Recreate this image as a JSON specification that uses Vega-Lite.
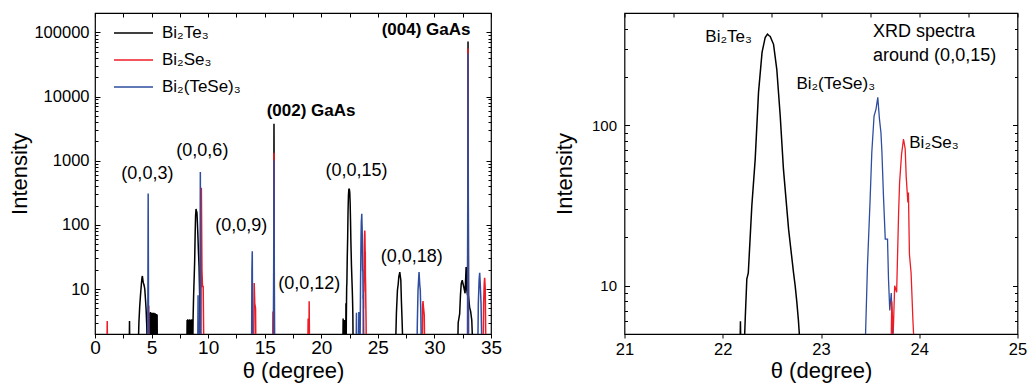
{
  "$schema": "https://vega.github.io/schema/vega-lite/v6.json",
  "padding": {"left": 8, "top": 11, "right": 1, "bottom": 0},
  "spacing": 49.5,
  "datasets": {
    "spec": [
      {"s":"Bi₂Te₃","t":0,"v":1},{"s":"Bi₂Te₃","t":3.02,"v":1},{"s":"Bi₂Te₃","t":3.05,"v":3.2},{"s":"Bi₂Te₃","t":3.08,"v":1},
      {"s":"Bi₂Te₃","t":3.81,"v":1},{"s":"Bi₂Te₃","t":3.88,"v":3},{"s":"Bi₂Te₃","t":3.95,"v":5.3},{"s":"Bi₂Te₃","t":4.02,"v":8},{"s":"Bi₂Te₃","t":4.1,"v":12},{"s":"Bi₂Te₃","t":4.15,"v":15},{"s":"Bi₂Te₃","t":4.19,"v":16},{"s":"Bi₂Te₃","t":4.23,"v":14},{"s":"Bi₂Te₃","t":4.27,"v":12.5},{"s":"Bi₂Te₃","t":4.31,"v":12},{"s":"Bi₂Te₃","t":4.36,"v":11},{"s":"Bi₂Te₃","t":4.4,"v":10},{"s":"Bi₂Te₃","t":4.46,"v":7},{"s":"Bi₂Te₃","t":4.52,"v":4.7},{"s":"Bi₂Te₃","t":4.58,"v":2.5},{"s":"Bi₂Te₃","t":4.62,"v":1},
      {"s":"Bi₂Te₃","t":4.82,"v":1},{"s":"Bi₂Te₃","t":4.84,"v":4.3},{"s":"Bi₂Te₃","t":4.87,"v":1.5},{"s":"Bi₂Te₃","t":4.9,"v":4.4},{"s":"Bi₂Te₃","t":4.93,"v":1.5},{"s":"Bi₂Te₃","t":4.96,"v":4.3},{"s":"Bi₂Te₃","t":4.99,"v":1.5},{"s":"Bi₂Te₃","t":5.02,"v":4.2},{"s":"Bi₂Te₃","t":5.05,"v":1.5},{"s":"Bi₂Te₃","t":5.08,"v":4.3},{"s":"Bi₂Te₃","t":5.11,"v":1.5},{"s":"Bi₂Te₃","t":5.14,"v":4.2},{"s":"Bi₂Te₃","t":5.17,"v":1.5},{"s":"Bi₂Te₃","t":5.2,"v":4.3},{"s":"Bi₂Te₃","t":5.23,"v":1.5},{"s":"Bi₂Te₃","t":5.26,"v":4.2},{"s":"Bi₂Te₃","t":5.29,"v":1.5},{"s":"Bi₂Te₃","t":5.32,"v":4.2},{"s":"Bi₂Te₃","t":5.35,"v":1.5},{"s":"Bi₂Te₃","t":5.38,"v":4.1},{"s":"Bi₂Te₃","t":5.41,"v":1.5},{"s":"Bi₂Te₃","t":5.44,"v":4.1},{"s":"Bi₂Te₃","t":5.47,"v":1.5},{"s":"Bi₂Te₃","t":5.49,"v":4.0},{"s":"Bi₂Te₃","t":5.51,"v":1},
      {"s":"Bi₂Te₃","t":8.12,"v":1},{"s":"Bi₂Te₃","t":8.14,"v":3.3},{"s":"Bi₂Te₃","t":8.17,"v":1.5},{"s":"Bi₂Te₃","t":8.2,"v":3.4},{"s":"Bi₂Te₃","t":8.23,"v":1.5},{"s":"Bi₂Te₃","t":8.26,"v":3.3},{"s":"Bi₂Te₃","t":8.29,"v":1.5},{"s":"Bi₂Te₃","t":8.32,"v":3.3},{"s":"Bi₂Te₃","t":8.35,"v":1.5},{"s":"Bi₂Te₃","t":8.38,"v":3.4},{"s":"Bi₂Te₃","t":8.41,"v":1.5},{"s":"Bi₂Te₃","t":8.44,"v":3.3},{"s":"Bi₂Te₃","t":8.47,"v":1.5},{"s":"Bi₂Te₃","t":8.5,"v":3.3},{"s":"Bi₂Te₃","t":8.53,"v":1.5},{"s":"Bi₂Te₃","t":8.56,"v":3.4},{"s":"Bi₂Te₃","t":8.59,"v":1.5},{"s":"Bi₂Te₃","t":8.62,"v":3.3},{"s":"Bi₂Te₃","t":8.65,"v":1.5},{"s":"Bi₂Te₃","t":8.67,"v":3.5},
      {"s":"Bi₂Te₃","t":8.72,"v":8.5},{"s":"Bi₂Te₃","t":8.77,"v":16},{"s":"Bi₂Te₃","t":8.81,"v":28},{"s":"Bi₂Te₃","t":8.85,"v":70},{"s":"Bi₂Te₃","t":8.89,"v":140},{"s":"Bi₂Te₃","t":8.93,"v":177},{"s":"Bi₂Te₃","t":8.97,"v":165},{"s":"Bi₂Te₃","t":9.01,"v":156},{"s":"Bi₂Te₃","t":9.05,"v":110},{"s":"Bi₂Te₃","t":9.09,"v":72},{"s":"Bi₂Te₃","t":9.14,"v":40},{"s":"Bi₂Te₃","t":9.2,"v":22},{"s":"Bi₂Te₃","t":9.25,"v":8},{"s":"Bi₂Te₃","t":9.3,"v":1},
      {"s":"Bi₂Te₃","t":15.78,"v":1},{"s":"Bi₂Te₃","t":15.82,"v":3750},{"s":"Bi₂Te₃","t":15.86,"v":1},
      {"s":"Bi₂Te₃","t":21.9,"v":1},{"s":"Bi₂Te₃","t":21.93,"v":3.5},{"s":"Bi₂Te₃","t":21.96,"v":1},{"s":"Bi₂Te₃","t":22.02,"v":1},{"s":"Bi₂Te₃","t":22.05,"v":3.3},{"s":"Bi₂Te₃","t":22.08,"v":1},{"s":"Bi₂Te₃","t":22.16,"v":1},{"s":"Bi₂Te₃","t":22.18,"v":6},{"s":"Bi₂Te₃","t":22.2,"v":1},{"s":"Bi₂Te₃","t":22.21,"v":3},{"s":"Bi₂Te₃","t":22.23,"v":6.5},{"s":"Bi₂Te₃","t":22.245,"v":11},{"s":"Bi₂Te₃","t":22.26,"v":12},{"s":"Bi₂Te₃","t":22.296,"v":31.5},{"s":"Bi₂Te₃","t":22.33,"v":61},{"s":"Bi₂Te₃","t":22.364,"v":160},{"s":"Bi₂Te₃","t":22.4,"v":284},{"s":"Bi₂Te₃","t":22.432,"v":352},{"s":"Bi₂Te₃","t":22.455,"v":369},{"s":"Bi₂Te₃","t":22.47,"v":362},{"s":"Bi₂Te₃","t":22.483,"v":357},{"s":"Bi₂Te₃","t":22.517,"v":319},{"s":"Bi₂Te₃","t":22.55,"v":223},{"s":"Bi₂Te₃","t":22.585,"v":114},{"s":"Bi₂Te₃","t":22.618,"v":53},{"s":"Bi₂Te₃","t":22.67,"v":22.5},{"s":"Bi₂Te₃","t":22.72,"v":12.1},{"s":"Bi₂Te₃","t":22.737,"v":10},{"s":"Bi₂Te₃","t":22.754,"v":7.9},{"s":"Bi₂Te₃","t":22.77,"v":6.1},{"s":"Bi₂Te₃","t":22.79,"v":4},{"s":"Bi₂Te₃","t":22.82,"v":1},
      {"s":"Bi₂Te₃","t":26.55,"v":1},{"s":"Bi₂Te₃","t":26.64,"v":4.2},{"s":"Bi₂Te₃","t":26.73,"v":9.6},{"s":"Bi₂Te₃","t":26.8,"v":12},{"s":"Bi₂Te₃","t":26.85,"v":15.5},{"s":"Bi₂Te₃","t":26.94,"v":18.4},{"s":"Bi₂Te₃","t":26.98,"v":16},{"s":"Bi₂Te₃","t":27.03,"v":13.8},{"s":"Bi₂Te₃","t":27.08,"v":6.6},{"s":"Bi₂Te₃","t":27.14,"v":3.3},{"s":"Bi₂Te₃","t":27.23,"v":1},
      {"s":"Bi₂Te₃","t":32.05,"v":1},{"s":"Bi₂Te₃","t":32.1,"v":3},{"s":"Bi₂Te₃","t":32.23,"v":4.1},{"s":"Bi₂Te₃","t":32.3,"v":8},{"s":"Bi₂Te₃","t":32.37,"v":12.2},{"s":"Bi₂Te₃","t":32.46,"v":13.8},{"s":"Bi₂Te₃","t":32.53,"v":12},{"s":"Bi₂Te₃","t":32.6,"v":10.7},{"s":"Bi₂Te₃","t":32.71,"v":8.6},{"s":"Bi₂Te₃","t":32.8,"v":22},{"s":"Bi₂Te₃","t":32.85,"v":10},{"s":"Bi₂Te₃","t":32.93,"v":8},{"s":"Bi₂Te₃","t":32.97,"v":72000},{"s":"Bi₂Te₃","t":33.01,"v":8},{"s":"Bi₂Te₃","t":33.11,"v":5.2},{"s":"Bi₂Te₃","t":33.2,"v":4.5},{"s":"Bi₂Te₃","t":33.3,"v":3.3},{"s":"Bi₂Te₃","t":33.41,"v":1},{"s":"Bi₂Te₃","t":35,"v":1},

      {"s":"Bi₂Se₃","t":0,"v":1},{"s":"Bi₂Se₃","t":1.05,"v":1},{"s":"Bi₂Se₃","t":1.08,"v":3.2},{"s":"Bi₂Se₃","t":1.11,"v":1},{"s":"Bi₂Se₃","t":4.72,"v":1},{"s":"Bi₂Se₃","t":4.75,"v":5.5},{"s":"Bi₂Se₃","t":4.78,"v":1},
      {"s":"Bi₂Se₃","t":9.35,"v":1},{"s":"Bi₂Se₃","t":9.4,"v":380},{"s":"Bi₂Se₃","t":9.45,"v":20},{"s":"Bi₂Se₃","t":9.5,"v":11},{"s":"Bi₂Se₃","t":9.56,"v":11},{"s":"Bi₂Se₃","t":9.62,"v":1},
      {"s":"Bi₂Se₃","t":14.02,"v":1},{"s":"Bi₂Se₃","t":14.07,"v":12.5},{"s":"Bi₂Se₃","t":14.12,"v":6},{"s":"Bi₂Se₃","t":14.19,"v":5},{"s":"Bi₂Se₃","t":14.22,"v":1},
      {"s":"Bi₂Se₃","t":15.7,"v":1},{"s":"Bi₂Se₃","t":15.73,"v":4.5},{"s":"Bi₂Se₃","t":15.76,"v":1},{"s":"Bi₂Se₃","t":15.79,"v":1},{"s":"Bi₂Se₃","t":15.82,"v":1330},{"s":"Bi₂Se₃","t":15.85,"v":1},
      {"s":"Bi₂Se₃","t":18.8,"v":1},{"s":"Bi₂Se₃","t":18.84,"v":3.5},{"s":"Bi₂Se₃","t":18.86,"v":1},{"s":"Bi₂Se₃","t":18.9,"v":1},{"s":"Bi₂Se₃","t":18.93,"v":6.5},{"s":"Bi₂Se₃","t":18.96,"v":1},
      {"s":"Bi₂Se₃","t":23.7,"v":1},{"s":"Bi₂Se₃","t":23.72,"v":8},{"s":"Bi₂Se₃","t":23.735,"v":5},{"s":"Bi₂Se₃","t":23.75,"v":10},{"s":"Bi₂Se₃","t":23.77,"v":9.1},{"s":"Bi₂Se₃","t":23.79,"v":28.6},{"s":"Bi₂Se₃","t":23.8,"v":44},{"s":"Bi₂Se₃","t":23.82,"v":66},{"s":"Bi₂Se₃","t":23.84,"v":82},{"s":"Bi₂Se₃","t":23.857,"v":71},{"s":"Bi₂Se₃","t":23.867,"v":48},{"s":"Bi₂Se₃","t":23.884,"v":33},{"s":"Bi₂Se₃","t":23.89,"v":38},{"s":"Bi₂Se₃","t":23.9,"v":15.7},{"s":"Bi₂Se₃","t":23.917,"v":12},{"s":"Bi₂Se₃","t":23.935,"v":6.2},{"s":"Bi₂Se₃","t":23.96,"v":3},{"s":"Bi₂Se₃","t":23.98,"v":1},
      {"s":"Bi₂Se₃","t":28.92,"v":1},{"s":"Bi₂Se₃","t":28.96,"v":5.5},{"s":"Bi₂Se₃","t":28.99,"v":6.5},{"s":"Bi₂Se₃","t":29.04,"v":5},{"s":"Bi₂Se₃","t":29.1,"v":4},{"s":"Bi₂Se₃","t":29.14,"v":1},
      {"s":"Bi₂Se₃","t":32.93,"v":1},{"s":"Bi₂Se₃","t":32.97,"v":56000},{"s":"Bi₂Se₃","t":33.01,"v":1},
      {"s":"Bi₂Se₃","t":34.3,"v":1},{"s":"Bi₂Se₃","t":34.35,"v":6},{"s":"Bi₂Se₃","t":34.4,"v":12},{"s":"Bi₂Se₃","t":34.44,"v":15},{"s":"Bi₂Se₃","t":34.49,"v":10},{"s":"Bi₂Se₃","t":34.55,"v":1},{"s":"Bi₂Se₃","t":35,"v":1},

      {"s":"Bi₂(TeSe)₃","t":0,"v":1},{"s":"Bi₂(TeSe)₃","t":4.66,"v":1},{"s":"Bi₂(TeSe)₃","t":4.7,"v":310},{"s":"Bi₂(TeSe)₃","t":4.74,"v":1},
      {"s":"Bi₂(TeSe)₃","t":9.08,"v":1},{"s":"Bi₂(TeSe)₃","t":9.11,"v":8},{"s":"Bi₂(TeSe)₃","t":9.14,"v":1},{"s":"Bi₂(TeSe)₃","t":9.27,"v":1},{"s":"Bi₂(TeSe)₃","t":9.31,"v":670},{"s":"Bi₂(TeSe)₃","t":9.35,"v":1},
      {"s":"Bi₂(TeSe)₃","t":13.84,"v":1},{"s":"Bi₂(TeSe)₃","t":13.87,"v":20},{"s":"Bi₂(TeSe)₃","t":13.9,"v":39},{"s":"Bi₂(TeSe)₃","t":13.94,"v":1},
      {"s":"Bi₂(TeSe)₃","t":15.78,"v":1},{"s":"Bi₂(TeSe)₃","t":15.82,"v":1015},{"s":"Bi₂(TeSe)₃","t":15.86,"v":1},
      {"s":"Bi₂(TeSe)₃","t":23.08,"v":1},{"s":"Bi₂(TeSe)₃","t":23.11,"v":4.3},{"s":"Bi₂(TeSe)₃","t":23.14,"v":1},{"s":"Bi₂(TeSe)₃","t":23.29,"v":1},{"s":"Bi₂(TeSe)₃","t":23.32,"v":4.4},{"s":"Bi₂(TeSe)₃","t":23.35,"v":1},
      {"s":"Bi₂(TeSe)₃","t":23.42,"v":1},{"s":"Bi₂(TeSe)₃","t":23.45,"v":4.2},{"s":"Bi₂(TeSe)₃","t":23.473,"v":13.3},{"s":"Bi₂(TeSe)₃","t":23.5,"v":34.6},{"s":"Bi₂(TeSe)₃","t":23.517,"v":67.6},{"s":"Bi₂(TeSe)₃","t":23.54,"v":114},{"s":"Bi₂(TeSe)₃","t":23.56,"v":126},{"s":"Bi₂(TeSe)₃","t":23.578,"v":149},{"s":"Bi₂(TeSe)₃","t":23.595,"v":109},{"s":"Bi₂(TeSe)₃","t":23.61,"v":90},{"s":"Bi₂(TeSe)₃","t":23.62,"v":68},{"s":"Bi₂(TeSe)₃","t":23.636,"v":36},{"s":"Bi₂(TeSe)₃","t":23.654,"v":19.5},{"s":"Bi₂(TeSe)₃","t":23.677,"v":19.5},{"s":"Bi₂(TeSe)₃","t":23.687,"v":11},{"s":"Bi₂(TeSe)₃","t":23.7,"v":7},{"s":"Bi₂(TeSe)₃","t":23.715,"v":9},{"s":"Bi₂(TeSe)₃","t":23.735,"v":4},{"s":"Bi₂(TeSe)₃","t":23.76,"v":1},
      {"s":"Bi₂(TeSe)₃","t":28.45,"v":1},{"s":"Bi₂(TeSe)₃","t":28.49,"v":3},{"s":"Bi₂(TeSe)₃","t":28.55,"v":9.6},{"s":"Bi₂(TeSe)₃","t":28.64,"v":18.4},{"s":"Bi₂(TeSe)₃","t":28.7,"v":12},{"s":"Bi₂(TeSe)₃","t":28.75,"v":9.6},{"s":"Bi₂(TeSe)₃","t":28.8,"v":4.2},{"s":"Bi₂(TeSe)₃","t":28.85,"v":1},
      {"s":"Bi₂(TeSe)₃","t":32.93,"v":1},{"s":"Bi₂(TeSe)₃","t":32.97,"v":47000},{"s":"Bi₂(TeSe)₃","t":33.01,"v":1},
      {"s":"Bi₂(TeSe)₃","t":33.83,"v":1},{"s":"Bi₂(TeSe)₃","t":33.88,"v":6},{"s":"Bi₂(TeSe)₃","t":33.95,"v":14},{"s":"Bi₂(TeSe)₃","t":34.0,"v":18},{"s":"Bi₂(TeSe)₃","t":34.05,"v":12},{"s":"Bi₂(TeSe)₃","t":34.12,"v":6},{"s":"Bi₂(TeSe)₃","t":34.2,"v":1},{"s":"Bi₂(TeSe)₃","t":35,"v":1}
    ],
    "labelsL": [
      {"t":4.63,"v":622,"label":"(0,0,3)"},
      {"t":9.49,"v":1413,"label":"(0,0,6)"},
      {"t":12.93,"v":97,"label":"(0,0,9)"},
      {"t":18.93,"v":12.1,"label":"(0,0,12)"},
      {"t":23.11,"v":692,"label":"(0,0,15)"},
      {"t":28.0,"v":32,"label":"(0,0,18)"}
    ],
    "boldL": [
      {"t":19.1,"v":6040,"label":"(002) GaAs"},
      {"t":29.26,"v":109000,"label":"(004) GaAs"}
    ],
    "labelsR": [
      {"t":22.06,"v":352,"label":"Bi₂Te₃"},
      {"t":23.15,"v":180,"label":"Bi₂(TeSe)₃"},
      {"t":24.15,"v":78,"label":"Bi₂Se₃"}
    ],
    "noteR": [
      {"t":23.53,"v":378,"label":"XRD spectra"},
      {"t":23.53,"v":270,"label":"around (0,0,15)"}
    ]
  },
  "hconcat": [
    {
      "width": 396,
      "height": 321,
      "layer": [
        {
          "data": {"name": "spec"},
          "transform": [{"filter": "datum.s === 'Bi₂Te₃'"}],
          "mark": {"type": "line", "clip": true, "strokeWidth": 1.5},
          "encoding": {
            "x": {"field": "t", "type": "quantitative", "scale": {"domain": [0, 35], "nice": false, "zero": false},
              "axis": {"orient": "bottom", "values": [0,2.5,5,7.5,10,12.5,15,17.5,20,22.5,25,27.5,30,32.5,35], "format": "d", "labelExpr": "datum.value % 5 === 0 ? datum.label : ''", "labelFlush": false, "labelFontSize": 19, "tickSize": 4, "labelPadding": 0, "domain": false, "title": "θ (degree)", "titlePadding": 3}},
            "y": {"field": "v", "type": "quantitative", "scale": {"type": "log", "domain": [2, 200000], "nice": false},
              "axis": {"orient": "left", "values": [10,100,1000,10000,100000], "format": "d", "ticks": false, "tickSize": 0, "domain": false, "labelFontSize": 16.5, "labelPadding": 6, "title": "Intensity", "titlePadding": 2}},
            "color": {"field": "s", "type": "nominal", "scale": {"domain": ["Bi₂Te₃","Bi₂Se₃","Bi₂(TeSe)₃"], "range": ["#000000","#ee1c25","#2e4da0"]},
              "legend": {"title": null, "orient": "none", "legendX": 18, "legendY": 11, "symbolType": "stroke", "symbolSize": 1521, "symbolStrokeWidth": 1.5, "labelFontSize": 17, "labelOffset": 8, "clipHeight": 18, "rowPadding": 9, "labelColor": "#000"}}
          }
        },
        {
          "data": {"name": "spec"},
          "transform": [{"filter": "datum.s === 'Bi₂Se₃'"}],
          "mark": {"type": "line", "clip": true, "strokeWidth": 1.5},
          "encoding": {
            "x": {"field": "t", "type": "quantitative", "scale": {"domain": [0, 35], "nice": false, "zero": false}, "axis": null},
            "y": {"field": "v", "type": "quantitative", "scale": {"type": "log", "domain": [2, 200000], "nice": false},
              "axis": {"orient": "left", "values": [2,3,4,5,6,7,8,9,10,20,30,40,50,60,70,80,90,100,200,300,400,500,600,700,800,900,1000,2000,3000,4000,5000,6000,7000,8000,9000,10000,20000,30000,40000,50000,60000,70000,80000,90000,100000,200000], "labels": false, "domain": false, "title": null,
                "tickSize": {"condition": {"test": "indexof([10,100,1000,10000,100000], datum.value) >= 0", "value": -5}, "value": -3}}},
            "color": {"field": "s", "type": "nominal"}
          }
        },
        {
          "data": {"name": "spec"},
          "transform": [{"filter": "datum.s === 'Bi₂(TeSe)₃'"}],
          "mark": {"type": "line", "clip": true, "strokeWidth": 1.5},
          "encoding": {
            "x": {"field": "t", "type": "quantitative", "scale": {"domain": [0, 35], "nice": false, "zero": false},
              "axis": {"orient": "top", "values": [0,2.5,5,7.5,10,12.5,15,17.5,20,22.5,25,27.5,30,32.5,35], "labels": false, "domain": false, "title": null, "tickSize": -4}},
            "y": {"field": "v", "type": "quantitative", "scale": {"type": "log", "domain": [2, 200000], "nice": false},
              "axis": {"orient": "right", "values": [2,3,4,5,6,7,8,9,10,20,30,40,50,60,70,80,90,100,200,300,400,500,600,700,800,900,1000,2000,3000,4000,5000,6000,7000,8000,9000,10000,20000,30000,40000,50000,60000,70000,80000,90000,100000,200000], "labels": false, "domain": false, "title": null,
                "tickSize": {"condition": {"test": "indexof([10,100,1000,10000,100000], datum.value) >= 0", "value": -5}, "value": -3}}},
            "color": {"field": "s", "type": "nominal"}
          }
        },
        {
          "data": {"name": "labelsL"},
          "mark": {"type": "text", "fontSize": 18, "align": "center", "baseline": "middle", "color": "#000"},
          "encoding": {
            "x": {"field": "t", "type": "quantitative", "axis": null},
            "y": {"field": "v", "type": "quantitative", "axis": null},
            "text": {"field": "label"}
          }
        },
        {
          "data": {"name": "boldL"},
          "mark": {"type": "text", "fontSize": 17, "fontWeight": "bold", "align": "center", "baseline": "middle", "color": "#000"},
          "encoding": {
            "x": {"field": "t", "type": "quantitative", "axis": null},
            "y": {"field": "v", "type": "quantitative", "axis": null},
            "text": {"field": "label"}
          }
        }
      ],
      "resolve": {"axis": {"x": "independent", "y": "independent"}}
    },
    {
      "width": 393,
      "height": 321,
      "layer": [
        {
          "data": {"name": "spec"},
          "transform": [{"filter": "datum.s === 'Bi₂Te₃'"}],
          "mark": {"type": "line", "clip": true, "strokeWidth": 1.5, "color": "#000000"},
          "encoding": {
            "x": {"field": "t", "type": "quantitative", "scale": {"domain": [21, 25], "nice": false, "zero": false},
              "axis": {"orient": "bottom", "values": [21,21.5,22,22.5,23,23.5,24,24.5,25], "format": "d", "labelExpr": "datum.value % 1 === 0 ? datum.label : ''", "labelFlush": false, "labelFontSize": 16.5, "tickSize": 4, "labelPadding": 3, "domain": false, "title": "θ (degree)", "titlePadding": 3}},
            "y": {"field": "v", "type": "quantitative", "scale": {"type": "log", "domain": [5, 500], "nice": false},
              "axis": {"orient": "left", "values": [10,100], "format": "d", "ticks": false, "tickSize": 0, "domain": false, "labelFontSize": 15, "labelPadding": 8, "title": "Intensity", "titlePadding": 15}}
          }
        },
        {
          "data": {"name": "spec"},
          "transform": [{"filter": "datum.s === 'Bi₂(TeSe)₃'"}],
          "mark": {"type": "line", "clip": true, "strokeWidth": 1.3, "color": "#2e4da0"},
          "encoding": {
            "x": {"field": "t", "type": "quantitative", "scale": {"domain": [21, 25], "nice": false, "zero": false}, "axis": null},
            "y": {"field": "v", "type": "quantitative", "scale": {"type": "log", "domain": [5, 500], "nice": false},
              "axis": {"orient": "left", "values": [5,6,7,8,9,10,20,30,40,50,60,70,80,90,100,200,300,400,500], "labels": false, "domain": false, "title": null,
                "tickSize": {"condition": {"test": "indexof([10,100], datum.value) >= 0", "value": -5}, "value": -3}}}
          }
        },
        {
          "data": {"name": "spec"},
          "transform": [{"filter": "datum.s === 'Bi₂Se₃'"}],
          "mark": {"type": "line", "clip": true, "strokeWidth": 1.3, "color": "#ee1c25"},
          "encoding": {
            "x": {"field": "t", "type": "quantitative", "scale": {"domain": [21, 25], "nice": false, "zero": false},
              "axis": {"orient": "top", "values": [21,21.5,22,22.5,23,23.5,24,24.5,25], "labels": false, "domain": false, "title": null, "tickSize": -4}},
            "y": {"field": "v", "type": "quantitative", "scale": {"type": "log", "domain": [5, 500], "nice": false},
              "axis": {"orient": "right", "values": [5,6,7,8,9,10,20,30,40,50,60,70,80,90,100,200,300,400,500], "labels": false, "domain": false, "title": null,
                "tickSize": {"condition": {"test": "indexof([10,100], datum.value) >= 0", "value": -5}, "value": -3}}}
          }
        },
        {
          "data": {"name": "labelsR"},
          "mark": {"type": "text", "fontSize": 17, "align": "center", "baseline": "middle", "color": "#000"},
          "encoding": {
            "x": {"field": "t", "type": "quantitative", "axis": null},
            "y": {"field": "v", "type": "quantitative", "axis": null},
            "text": {"field": "label"}
          }
        },
        {
          "data": {"name": "noteR"},
          "mark": {"type": "text", "fontSize": 18, "align": "left", "baseline": "middle", "color": "#000"},
          "encoding": {
            "x": {"field": "t", "type": "quantitative", "axis": null},
            "y": {"field": "v", "type": "quantitative", "axis": null},
            "text": {"field": "label"}
          }
        }
      ],
      "resolve": {"axis": {"x": "independent", "y": "independent"}}
    }
  ],
  "config": {
    "font": "Liberation Sans",
    "view": {"stroke": "#000", "strokeWidth": 1.2},
    "axis": {"grid": false, "labelFont": "Liberation Sans", "labelFontSize": 16, "labelColor": "#000", "tickColor": "#000", "tickWidth": 1, "titleFont": "Liberation Sans", "titleFontSize": 22, "titleFontWeight": "normal", "titleColor": "#000"},
    "legend": {"labelFont": "Liberation Sans"},
    "text": {"font": "Liberation Sans"}
  }
}
